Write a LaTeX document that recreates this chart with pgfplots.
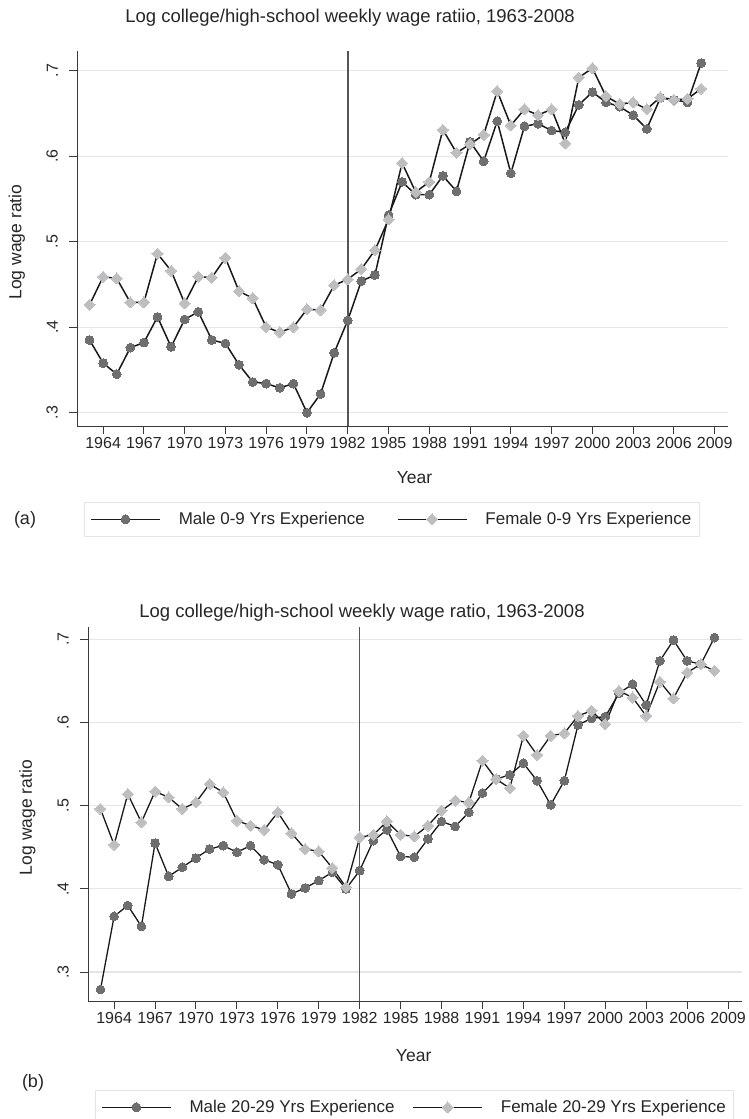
\documentclass[border=0pt]{standalone}
\usepackage{fontspec}
\setmainfont{Liberation Sans}
\usepackage{pgfplots}
\pgfplotsset{compat=1.18}
\definecolor{malec}{HTML}{6E6E6E}
\definecolor{femc}{HTML}{BEBEC1}
\definecolor{gridc}{HTML}{E6E6E6}
\definecolor{axc}{HTML}{3A3A3A}
\definecolor{vlc}{HTML}{555555}
\definecolor{legc}{HTML}{E4E4E4}

\pgfplotstableread{
year male female
1963 0.385 0.426
1964 0.358 0.459
1965 0.345 0.457
1966 0.376 0.429
1967 0.382 0.429
1968 0.412 0.486
1969 0.377 0.466
1970 0.409 0.428
1971 0.418 0.459
1972 0.385 0.458
1973 0.381 0.481
1974 0.356 0.442
1975 0.336 0.434
1976 0.334 0.400
1977 0.329 0.394
1978 0.334 0.400
1979 0.300 0.421
1980 0.322 0.420
1981 0.370 0.449
1982 0.408 0.456
1983 0.454 0.468
1984 0.461 0.490
1985 0.531 0.526
1986 0.570 0.592
1987 0.555 0.558
1988 0.555 0.570
1989 0.577 0.631
1990 0.559 0.604
1991 0.617 0.614
1992 0.594 0.625
1993 0.641 0.676
1994 0.580 0.636
1995 0.635 0.655
1996 0.638 0.648
1997 0.630 0.655
1998 0.628 0.615
1999 0.660 0.692
2000 0.675 0.703
2001 0.663 0.670
2002 0.658 0.661
2003 0.648 0.663
2004 0.632 0.655
2005 0.668 0.669
2006 0.666 0.666
2007 0.663 0.667
2008 0.709 0.679
}\younger

\pgfplotstableread{
year male female
1963 0.279 0.496
1964 0.367 0.453
1965 0.380 0.514
1966 0.355 0.480
1967 0.455 0.517
1968 0.415 0.510
1969 0.426 0.496
1970 0.437 0.504
1971 0.448 0.526
1972 0.452 0.516
1973 0.444 0.482
1974 0.452 0.476
1975 0.435 0.471
1976 0.429 0.492
1977 0.394 0.467
1978 0.401 0.448
1979 0.410 0.445
1980 0.420 0.425
1981 0.400 0.402
1982 0.422 0.462
1983 0.458 0.465
1984 0.471 0.481
1985 0.439 0.465
1986 0.438 0.463
1987 0.460 0.476
1988 0.481 0.494
1989 0.475 0.506
1990 0.492 0.504
1991 0.515 0.554
1992 0.532 0.532
1993 0.537 0.521
1994 0.551 0.584
1995 0.530 0.561
1996 0.501 0.584
1997 0.530 0.587
1998 0.597 0.608
1999 0.605 0.614
2000 0.607 0.598
2001 0.635 0.638
2002 0.646 0.630
2003 0.621 0.608
2004 0.674 0.649
2005 0.699 0.629
2006 0.674 0.660
2007 0.670 0.670
2008 0.702 0.662
}\older

\pgfplotsset{
  wage/.style={
    scale only axis,
    anchor=north west,
    xmin=1962.1, xmax=2010,
    axis x line*=bottom, axis y line*=left,
    axis line style={axc, line width=1pt},
    xtick={1964,1967,1970,1973,1976,1979,1982,1985,1988,1991,1994,1997,2000,2003,2006,2009},
    xticklabels={1964,1967,1970,1973,1976,1979,1982,1985,1988,1991,1994,1997,2000,2003,2006,2009},
    ytick={0.3,0.4,0.5,0.6,0.7},
    yticklabels={.3,.4,.5,.6,.7},
    tick align=outside,
    major tick length=8pt,
    tick style={axc, line width=1pt},
    ticklabel style={font=\fontsize{16}{18}\selectfont, text=black!85},
    yticklabel style={rotate=90, anchor=south},
    yticklabel shift=8pt,
    ymajorgrids,
    grid style={gridc, line width=1.2pt},
    label style={font=\fontsize{17.5}{20}\selectfont, text=black!85},
    clip=false,
    legend columns=2,
    legend cell align=left,
    legend style={draw=legc, line width=0.8pt, inner xsep=6pt, inner ysep=8pt,
      font=\fontsize{17}{20}\selectfont, text=black!85},
    legend image code/.code={\draw[mark repeat=2,mark phase=2,#1] plot coordinates {(0pt,0pt)(34.5pt,0pt)(69pt,0pt)};},
  },
  maleline/.style={black!90, line width=1.5pt, mark=*, mark size=4.4pt,
    mark options={fill=malec, draw=malec, line width=0pt}},
  femline/.style={black!90, line width=1.5pt, mark=square*, mark size=3.9pt,
    mark options={fill=femc, draw=femc, rotate=45, line width=0pt}},
}

\begin{document}
\begin{tikzpicture}[x=1pt,y=1pt]
\useasboundingbox (0,0) rectangle (748,-1119);

\node[font=\fontsize{18.5}{21}\selectfont, text=black!85] at (350,-18) {Log college/high-school weekly wage ratiio, 1963-2008};
\node[font=\fontsize{18}{21}\selectfont, text=black!85] at (25,-520) {(a)};

\begin{axis}[wage,
  at={(77.3pt,-50.7pt)}, width=651pt, height=375.3pt,
  ymin=0.2844, ymax=0.7234,
  xlabel={Year}, ylabel={Log wage ratio},
  xlabel style={at={(axis description cs:0.518,0)}, anchor=center, yshift=-52pt},
  ylabel style={at={(axis description cs:-0.093,0.49)}, anchor=center},
  legend style={at={(axis description cs:0.0101,-0.2025)}, anchor=north west,
    /tikz/every even column/.append style={column sep=30pt}},
]
\draw[vlc, line width=1.6pt] (axis cs:1982,0.2844) -- (axis cs:1982,0.7234);
\addplot[maleline] table[x=year, y=male] {\younger};
\addlegendentry{\hspace{16pt}Male 0-9 Yrs Experience}
\addplot[femline] table[x=year, y=female] {\younger};
\addlegendentry{\hspace{16pt}Female 0-9 Yrs Experience\hspace{12pt}}
\end{axis}

\node[font=\fontsize{18.5}{21}\selectfont, text=black!85] at (362,-613) {Log college/high-school weekly wage ratio, 1963-2008};
\node[font=\fontsize{18}{21}\selectfont, text=black!85] at (33,-1083) {(b)};

\begin{axis}[wage,
  at={(88.2pt,-626.7pt)}, width=653.5pt, height=374.3pt,
  ymin=0.2652, ymax=0.7151,
  xlabel={Year}, ylabel={Log wage ratio},
  xlabel style={at={(axis description cs:0.498,0)}, anchor=center, yshift=-55pt},
  ylabel style={at={(axis description cs:-0.093,0.49)}, anchor=center},
  legend style={at={(axis description cs:0.0102,-0.2378)}, anchor=north west,
    /tikz/every even column/.append style={column sep=16pt}},
]
\draw[vlc, line width=1.6pt] (axis cs:1982,0.2652) -- (axis cs:1982,0.7151);
\addplot[maleline, line width=1.3pt] table[x=year, y=male] {\older};
\addlegendentry{\hspace{16pt}Male 20-29 Yrs Experience}
\addplot[femline, line width=1.3pt] table[x=year, y=female] {\older};
\addlegendentry{\hspace{16pt}Female 20-29 Yrs Experience\hspace{6pt}}
\end{axis}
\end{tikzpicture}
\end{document}
